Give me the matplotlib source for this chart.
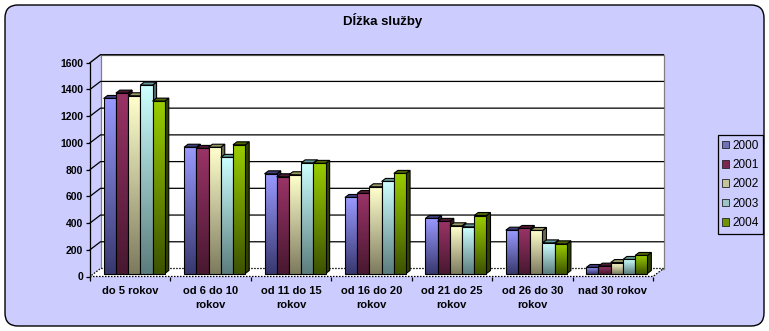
import numpy as np
import matplotlib
matplotlib.use('Agg')
import matplotlib.pyplot as plt
from matplotlib.patches import Polygon, FancyBboxPatch, Patch
from matplotlib.colors import LinearSegmentedColormap

plt.rcParams['font.family'] = ['Liberation Sans', 'DejaVu Sans']

categories = ['do 5 rokov', 'od 6 do 10\nrokov', 'od 11 do 15\nrokov', 'od 16 do 20\nrokov',
              'od 21 do 25\nrokov', 'od 26 do 30\nrokov', 'nad 30 rokov']
years = ['2000', '2001', '2002', '2003', '2004']
v2000 = [1310, 945, 746, 569, 412, 324, 45]
v2001 = [1350, 936, 724, 599, 390, 337, 55]
v2002 = [1330, 945, 739, 649, 357, 322, 82]
v2003 = [1410, 869, 828, 689, 349, 229, 105]
v2004 = [1290, 963, 824, 749, 434, 222, 135]
series = [v2000, v2001, v2002, v2003, v2004]
yticks = [0, 200, 400, 600, 800, 1000, 1200, 1400, 1600]

# gradient top, gradient bottom, top face, side face, legend swatch
col_top = ['#9999ff', '#993366', '#ffffcc', '#ccffff', '#99cc00']
col_bot = ['#383870', '#481830', '#7d7b5e', '#5c7d7d', '#3d5200']
col_cap = ['#3f3f80', '#4d1a33', '#999966', '#669999', '#4d6600']
col_side = ['#2c2c58', '#3a1226', '#6b6b4f', '#4f6b6b', '#314200']
col_leg = ['#7070b8', '#7a2650', '#c4c39a', '#9cc4c4', '#6f9400']

W, H = 769, 331
fig = plt.figure(figsize=(W / 100, H / 100), dpi=100)
fig.patch.set_facecolor('white')

# rounded lavender background
bg = FancyBboxPatch((0.05, 0.05), 7.59, 3.21, boxstyle='round,pad=0,rounding_size=0.13',
                    transform=fig.dpi_scale_trans, facecolor='#ccccff', edgecolor='black',
                    lw=1.0, zorder=-5)
fig.add_artist(bg)

ax_l, ax_r, ax_b, ax_t = 90, 653, 276.5, 62.7
ax = fig.add_axes([ax_l / W, (H - ax_b) / H, (ax_r - ax_l) / W, (ax_b - ax_t) / H])
ax.set_facecolor('none')
n = len(categories)
ymax = 1600
ux = n / (ax_r - ax_l)        # data units per pixel
uy = ymax / (ax_b - ax_t)

wdx, wdy = 10.5 * ux, 8 * uy  # wall depth
ox, oy = 4 * ux, 3 * uy       # bar offset from front
bdx, bdy = 4 * ux, 3 * uy     # bar depth

# back wall
ax.add_patch(Polygon([(wdx, wdy), (n + wdx, wdy), (n + wdx, ymax + wdy), (wdx, ymax + wdy)],
                     closed=True, facecolor='white', edgecolor='#808080', lw=0.9, zorder=0.5,
                     clip_on=False))
# floor
ax.add_patch(Polygon([(0, 0), (n, 0), (n + wdx, wdy), (wdx, wdy)], closed=True,
                     facecolor='white', edgecolor='black', lw=0.9, ls=(0, (1.2, 1.2)),
                     zorder=0.6, clip_on=False))
# side wall top edge
ax.plot([0, wdx], [ymax, ymax + wdy], color='#808080', lw=0.9, zorder=0.7, clip_on=False)
# gridlines
for v in yticks[1:]:
    ax.plot([0, wdx, n + wdx], [v, v + wdy, v + wdy], color='black', lw=0.9, zorder=0.7,
            clip_on=False)

bw = 0.152
z = 2
for i in range(n):
    for j, vals in enumerate(series):
        x0 = i + 0.5 + (j - 2.5) * bw + ox
        rect = ax.bar(x0, vals[i], width=bw, bottom=oy, align='edge', facecolor='none',
                      edgecolor='black', lw=0.8, zorder=z + 2)[0]
        bx, by = rect.get_x(), rect.get_y()
        bwid, bh = rect.get_width(), rect.get_height()
        top = by + bh
        # side face
        ax.add_patch(Polygon([(bx + bwid, by), (bx + bwid + bdx, by + bdy),
                              (bx + bwid + bdx, top + bdy), (bx + bwid, top)], closed=True,
                             facecolor=col_side[j], edgecolor='black', lw=0.8, zorder=z,
                             clip_on=False))
        # top face
        ax.add_patch(Polygon([(bx, top), (bx + bwid, top), (bx + bwid + bdx, top + bdy),
                              (bx + bdx, top + bdy)], closed=True,
                             facecolor=col_cap[j], edgecolor='black', lw=0.8, zorder=z + 1,
                             clip_on=False))
        # gradient front face
        cmap = LinearSegmentedColormap.from_list('g', [col_bot[j], col_top[j]])
        ax.imshow(np.linspace(0, 1, 64).reshape(-1, 1), extent=[bx, bx + bwid, by, top],
                  origin='lower', aspect='auto', cmap=cmap, zorder=z + 1.5, clip_on=False)
        z += 3

ax.set_xlim(0, n)
ax.set_ylim(0, ymax)
ax.spines['top'].set_visible(False)
ax.spines['right'].set_visible(False)
ax.spines['bottom'].set_visible(False)
ax.spines['left'].set_linewidth(0.9)
ax.spines['left'].set_zorder(0.8)

ax.set_yticks(yticks)
ax.set_yticklabels([str(v) for v in yticks], fontsize=7.5, fontweight='bold')
ax.tick_params(axis='y', length=3, width=0.9, pad=2)
ax.set_xticks(np.arange(n + 1))
ax.set_xticklabels([])
ax.tick_params(axis='x', which='major', length=3, width=0.9)
ax.set_xticks(np.arange(n) + 0.5, minor=True)
ax.set_xticklabels(categories, minor=True, fontsize=8, fontweight='bold', linespacing=1.5)
ax.tick_params(axis='x', which='minor', length=0, pad=7)

fig.text(383 / W, 1 - 21 / H, 'Dĺžka služby', ha='center', va='center', fontsize=9.5,
         fontweight='bold')

handles = [Patch(facecolor=col_leg[j], edgecolor='#222222', lw=0.6) for j in range(len(years))]
leg = fig.legend(handles, years, loc='upper left', bbox_to_anchor=(717.5 / W, 1 - 135 / H),
                 fontsize=8.5, frameon=True, fancybox=False, edgecolor='black', framealpha=1,
                 handlelength=0.6, handleheight=0.6, handletextpad=0.25, borderpad=0.4,
                 labelspacing=0.62, borderaxespad=0)
leg.get_frame().set_linewidth(0.9)
leg.get_frame().set_facecolor('#ccccff')

fig.savefig('out.png', dpi=100, facecolor=fig.get_facecolor())
